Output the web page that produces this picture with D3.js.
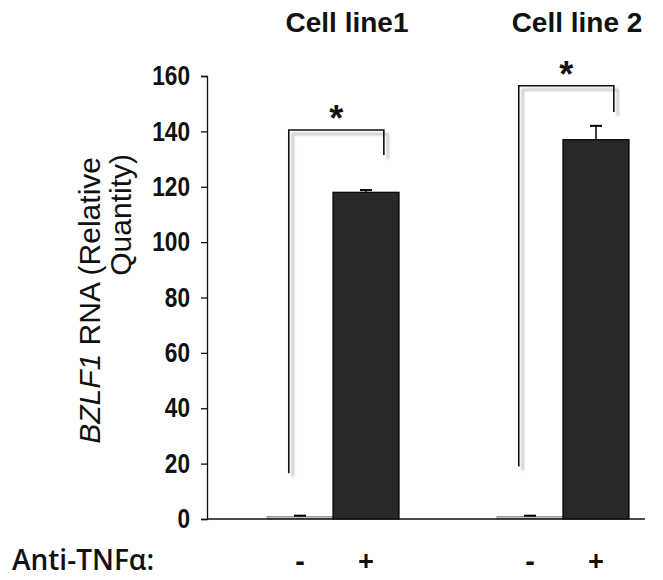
<!DOCTYPE html>
<html>
<head>
<meta charset="utf-8">
<script src="https://cdn.jsdelivr.net/npm/d3@7"></script>
<style>
  html, body { margin: 0; padding: 0; background: #fff; }
  svg { display: block; }
</style>
</head>
<body>
<svg id="chart" width="663" height="580"></svg>
<script>
// ---- data ----
const groups = ["Cell line1", "Cell line 2"];
const conditions = ["-", "+"];
const meansCell1 = [0.9, 118];
const errorsCell1 = [0.3, 0.8];
const meansCell2 = [0.9, 137];
const errorsCell2 = [0.3, 5];
const yTicks = [0, 20, 40, 60, 80, 100, 120, 140, 160];
const sigLabels = ["*", "*"];
// bracket heights in data units
const bracketTop = [140.5, 156.5];
const bracketLeftEnd = [16.5, 19];
const bracketRightEnd = [131.5, 147];

const rows = [];
groups.forEach((g, gi) => {
  const m = gi === 0 ? meansCell1 : meansCell2;
  const e = gi === 0 ? errorsCell1 : errorsCell2;
  conditions.forEach((c, ci) => rows.push({ group: g, cond: c, value: m[ci], err: e[ci] }));
});

const svg = d3.select("#chart");
const FONT = "Liberation Sans, Arial, sans-serif";

const y = d3.scaleLinear().domain([0, 160]).range([519, 76]);
const xOuter = d3.scaleBand().domain(groups).range([267, 629]).paddingInner(0.426).paddingOuter(0);
const xInner = d3.scaleBand().domain(conditions).range([0, xOuter.bandwidth()]).padding(0);

const axisX = 207;
const baseRight = 645;

// y axis
const yAxis = d3.axisLeft(y).tickValues(yTicks).tickSize(6).tickPadding(11);
const gy = svg.append("g").attr("transform", `translate(${axisX},0)`).call(yAxis);
gy.select(".domain").attr("stroke", "#111").attr("stroke-width", 1.3);
gy.selectAll(".tick line").attr("stroke", "#111").attr("stroke-width", 1.3);
gy.selectAll(".tick text")
  .attr("font-family", FONT)
  .attr("font-weight", "bold")
  .attr("font-size", 27)
  .attr("fill", "#111")
  .attr("textLength", d => String(d).length * 12.6)
  .attr("lengthAdjust", "spacingAndGlyphs");

// bars
const barG = svg.append("g");
rows.forEach(d => {
  const x0 = xOuter(d.group) + xInner(d.cond);
  const w = xInner.bandwidth();
  const isPlus = d.cond === "+";
  barG.append("rect")
    .attr("x", x0)
    .attr("y", y(d.value))
    .attr("width", w)
    .attr("height", y(0) - y(d.value))
    .attr("fill", isPlus ? "#282828" : "#bdbdbd")
    .attr("stroke", isPlus ? "#000" : "#888")
    .attr("stroke-width", isPlus ? 1.2 : 0.8);
  const cx = x0 + w / 2;
  const capW = 6;
  barG.append("line")
    .attr("x1", cx).attr("x2", cx)
    .attr("y1", y(d.value)).attr("y2", y(d.value + d.err))
    .attr("stroke", "#000").attr("stroke-width", 1.5);
  barG.append("line")
    .attr("x1", cx - capW).attr("x2", cx + capW)
    .attr("y1", y(d.value + d.err)).attr("y2", y(d.value + d.err))
    .attr("stroke", "#000").attr("stroke-width", 2);
});

// baseline
svg.append("line")
  .attr("x1", axisX).attr("x2", baseRight)
  .attr("y1", y(0)).attr("y2", y(0))
  .attr("stroke", "#111").attr("stroke-width", 1.5);

// significance brackets with soft shadow
const defs = svg.append("defs");
const f = defs.append("filter").attr("id", "blur").attr("x", "-20%").attr("y", "-20%").attr("width", "140%").attr("height", "140%");
f.append("feGaussianBlur").attr("stdDeviation", 1);

groups.forEach((g, gi) => {
  const bw = xInner.bandwidth();
  const lx = xOuter(g) + xInner("-") + bw * 0.33;
  const rx = xOuter(g) + xInner("+") + bw * 0.77;
  const ty = y(bracketTop[gi]);
  const pathD = `M${lx},${y(bracketLeftEnd[gi])} L${lx},${ty} L${rx},${ty} L${rx},${y(bracketRightEnd[gi])}`;
  svg.append("path")
    .attr("d", pathD)
    .attr("transform", "translate(4,4)")
    .attr("fill", "none")
    .attr("stroke", "#c8c8c8")
    .attr("stroke-width", 2.5)
    .attr("filter", "url(#blur)");
  svg.append("path")
    .attr("d", pathD)
    .attr("fill", "none")
    .attr("stroke", "#111")
    .attr("stroke-width", 1.6);
  svg.append("text")
    .attr("x", (lx + rx) / 2)
    .attr("y", ty + 1)
    .attr("text-anchor", "middle")
    .attr("font-family", FONT)
    .attr("font-weight", "bold")
    .attr("font-size", 36)
    .attr("fill", "#111")
    .text(sigLabels[gi]);
});

// group titles
groups.forEach(g => {
  svg.append("text")
    .attr("x", xOuter(g) + xOuter.bandwidth() / 2 + 14)
    .attr("y", 32)
    .attr("text-anchor", "middle")
    .attr("font-family", FONT)
    .attr("font-weight", "bold")
    .attr("font-size", 28)
    .attr("fill", "#111")
    .text(g);
});

// condition labels
svg.append("text")
  .attr("x", 12)
  .attr("y", 570)
  .attr("font-family", "Open Sans, Lato, sans-serif")
  .attr("font-weight", 600)
  .attr("font-size", 28)
  .attr("fill", "#111")
  .text("Anti-TNFα:");
groups.forEach(g => {
  conditions.forEach(c => {
    svg.append("text")
      .attr("x", xOuter(g) + xInner(c) + xInner.bandwidth() / 2)
      .attr("y", 571)
      .attr("text-anchor", "middle")
      .attr("font-family", "Open Sans, Lato, sans-serif")
      .attr("font-weight", 700)
      .attr("font-size", 28)
      .attr("fill", "#111")
      .text(c);
  });
});

// y axis title (two lines, aligned at the top end)
const yt = svg.append("text")
  .attr("transform", "translate(100,157) rotate(-90)")
  .attr("text-anchor", "end")
  .attr("font-family", FONT)
  .attr("font-size", 30)
  .attr("fill", "#111");
yt.append("tspan").attr("font-style", "italic").text("BZLF1");
yt.append("tspan").text(" RNA (Relative");
svg.append("text")
  .attr("transform", "translate(131,154) rotate(-90)")
  .attr("text-anchor", "end")
  .attr("font-family", FONT)
  .attr("font-size", 30)
  .attr("fill", "#111")
  .text("Quantity)");
</script>
</body>
</html>
